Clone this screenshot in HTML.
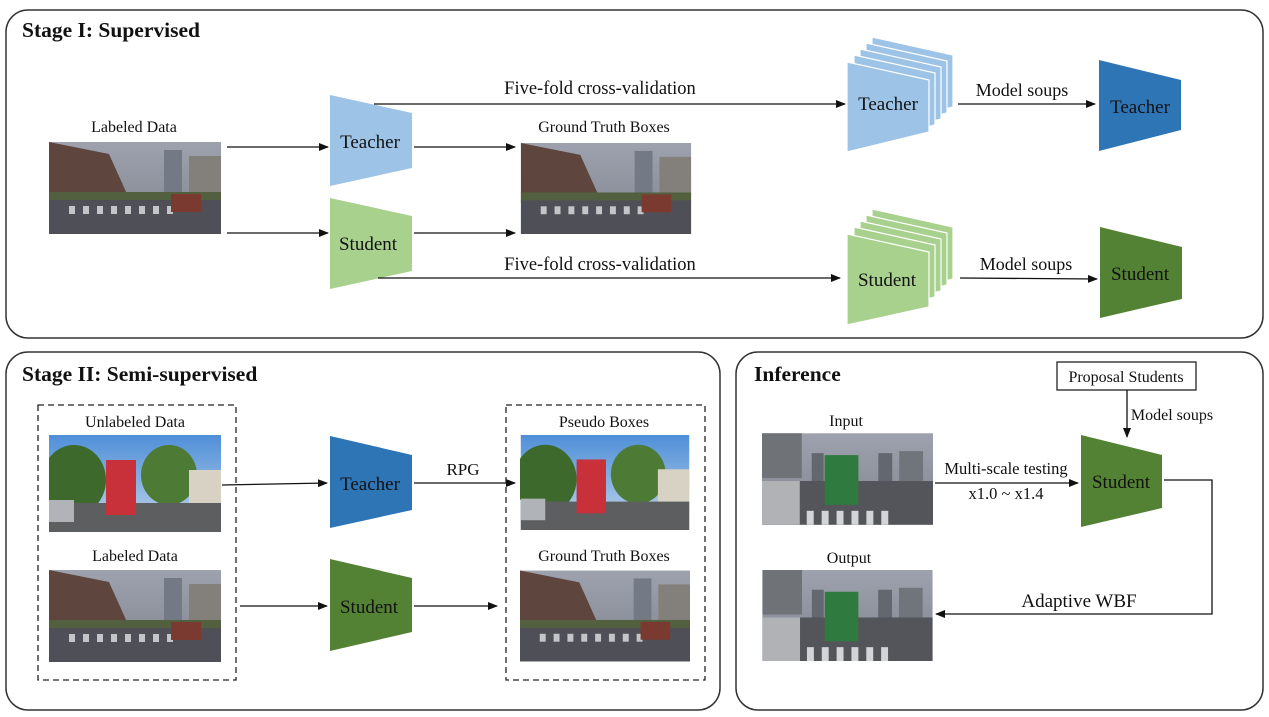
<!DOCTYPE html>
<html><head><meta charset="utf-8"><style>
html,body{margin:0;padding:0;background:#fff}
svg{display:block}
text{font-family:"Liberation Serif",serif;fill:#111}
</style></head><body>
<svg width="1269" height="717" viewBox="0 0 1269 717" xmlns="http://www.w3.org/2000/svg">
<defs>
<marker id="a" markerWidth="10" markerHeight="8" refX="9" refY="4" orient="auto" markerUnits="userSpaceOnUse"><path d="M0,0 L10,4 L0,8 z" fill="#111"/></marker>
<linearGradient id="sky" x1="0" y1="0" x2="0" y2="1"><stop offset="0" stop-color="#9ea2ae"/><stop offset="1" stop-color="#80848e"/></linearGradient>
<linearGradient id="bsky" x1="0" y1="0" x2="0" y2="1"><stop offset="0" stop-color="#4f8fd8"/><stop offset="1" stop-color="#c4d7ea"/></linearGradient>
<symbol id="city" viewBox="0 0 172 92">
<rect width="172" height="92" fill="url(#sky)"/>
<polygon points="0,0 60,12 78,52 0,60" fill="#5e463e"/>
<rect x="115" y="8" width="18" height="44" fill="#737985"/>
<rect x="140" y="14" width="32" height="40" fill="#83807c"/>
<rect x="0" y="50" width="172" height="10" fill="#52603f"/>
<rect x="0" y="58" width="172" height="34" fill="#4f5057"/>
<g fill="#c4c5c9"><rect x="20" y="64" width="6" height="8"/><rect x="34" y="64" width="6" height="8"/><rect x="48" y="64" width="6" height="8"/><rect x="62" y="64" width="6" height="8"/><rect x="76" y="64" width="6" height="8"/><rect x="90" y="64" width="6" height="8"/><rect x="104" y="64" width="6" height="8"/><rect x="118" y="64" width="6" height="8"/></g>
<rect x="122" y="52" width="30" height="18" fill="#7a3a30"/>
</symbol>
<symbol id="truck" viewBox="0 0 172 97">
<rect width="172" height="97" fill="url(#bsky)"/>
<ellipse cx="25" cy="45" rx="32" ry="35" fill="#3d6a2c"/>
<ellipse cx="120" cy="40" rx="28" ry="30" fill="#4d7a34"/>
<rect x="140" y="35" width="32" height="40" fill="#d8d2c4"/>
<rect x="0" y="68" width="172" height="29" fill="#5d5e60"/>
<rect x="57" y="25" width="30" height="55" fill="#c8303a"/>
<rect x="0" y="65" width="25" height="22" fill="#b0b3b8"/>
</symbol>
<symbol id="bus" viewBox="0 0 172 92">
<rect width="172" height="92" fill="url(#sky)"/>
<rect x="0" y="0" width="40" height="45" fill="#6f7378"/>
<rect x="50" y="20" width="12" height="30" fill="#636770"/>
<rect x="117" y="20" width="14" height="35" fill="#636770"/>
<rect x="138" y="18" width="24" height="35" fill="#70757c"/>
<rect x="0" y="48" width="172" height="44" fill="#54555b"/>
<rect x="63" y="22" width="34" height="50" fill="#2f7a3e"/>
<rect x="0" y="48" width="38" height="44" fill="#b0b2b6"/>
<g fill="#d3d4d8"><rect x="45" y="78" width="7" height="14"/><rect x="60" y="78" width="7" height="14"/><rect x="75" y="78" width="7" height="14"/><rect x="90" y="78" width="7" height="14"/><rect x="105" y="78" width="7" height="14"/><rect x="120" y="78" width="7" height="14"/></g>
</symbol>
</defs>

<rect x="6" y="10" width="1257" height="328" rx="22" fill="none" stroke="#333" stroke-width="1.5"/>
<rect x="6" y="352" width="714" height="358" rx="22" fill="none" stroke="#333" stroke-width="1.5"/>
<rect x="736" y="352" width="527" height="358" rx="22" fill="none" stroke="#333" stroke-width="1.5"/>

<text x="22" y="37" font-size="21.5" font-weight="bold">Stage I: Supervised</text>
<text x="22" y="381" font-size="21.5" font-weight="bold">Stage II: Semi-supervised</text>
<text x="754" y="381" font-size="21.5" font-weight="bold">Inference</text>

<!-- Stage I -->
<text x="134" y="132" font-size="16" text-anchor="middle">Labeled Data</text>
<use href="#city" x="49" y="142" width="172" height="92"/>
<line x1="227" y1="147" x2="328" y2="147" stroke="#111" stroke-width="1.3" marker-end="url(#a)"/>
<line x1="227" y1="233" x2="328" y2="233" stroke="#111" stroke-width="1.3" marker-end="url(#a)"/>
<polygon points="330,95 412,113 412,168 330,186" fill="#9dc3e6"/>
<text x="370" y="148" font-size="19" text-anchor="middle">Teacher</text>
<polygon points="330,198 412,216 412,271 330,289" fill="#a9d18e"/>
<text x="368" y="250" font-size="19" text-anchor="middle">Student</text>
<line x1="414" y1="147" x2="515" y2="147" stroke="#111" stroke-width="1.3" marker-end="url(#a)"/>
<line x1="414" y1="233" x2="515" y2="233" stroke="#111" stroke-width="1.3" marker-end="url(#a)"/>
<text x="604" y="132" font-size="16" text-anchor="middle">Ground Truth Boxes</text>
<use href="#city" x="520" y="143" width="172" height="91"/>
<text x="600" y="94" font-size="18.5" text-anchor="middle">Five-fold cross-validation</text>
<line x1="374" y1="104" x2="845" y2="104" stroke="#111" stroke-width="1.3" marker-end="url(#a)"/>
<text x="600" y="270" font-size="18.5" text-anchor="middle">Five-fold cross-validation</text>
<line x1="378" y1="278" x2="840" y2="278" stroke="#111" stroke-width="1.3" marker-end="url(#a)"/>

<g fill="#9dc3e6" stroke="#fff" stroke-width="1.2">
<polygon points="872,37 953,55 953,107 872,127"/>
<polygon points="866,43 947,61 947,113 866,133"/>
<polygon points="860,49 941,67 941,119 860,139"/>
<polygon points="854,55 935,73 935,125 854,145"/>
<polygon points="847,62 929,80 929,132 847,152"/>
</g>
<text x="888" y="110" font-size="19" text-anchor="middle">Teacher</text>
<text x="1022" y="96" font-size="18" text-anchor="middle">Model soups</text>
<line x1="958" y1="104" x2="1095" y2="104" stroke="#111" stroke-width="1.3" marker-end="url(#a)"/>
<polygon points="1099,60 1181,80 1181,130 1099,151" fill="#2e75b6"/>
<text x="1140" y="113" font-size="19" text-anchor="middle">Teacher</text>

<g fill="#a9d18e" stroke="#fff" stroke-width="1.2">
<polygon points="872,209 953,227 953,279 872,299"/>
<polygon points="866,215 947,233 947,285 866,305"/>
<polygon points="860,221 941,239 941,291 860,311"/>
<polygon points="854,227 935,245 935,297 854,317"/>
<polygon points="847,234 929,252 929,307 847,325"/>
</g>
<text x="887" y="286" font-size="19" text-anchor="middle">Student</text>
<text x="1026" y="270" font-size="18" text-anchor="middle">Model soups</text>
<line x1="960" y1="278" x2="1097" y2="279" stroke="#111" stroke-width="1.3" marker-end="url(#a)"/>
<polygon points="1100,227 1182,247 1182,299 1100,318" fill="#548235"/>
<text x="1140" y="280" font-size="19" text-anchor="middle">Student</text>

<!-- Stage II -->
<rect x="38" y="405" width="198" height="275" fill="none" stroke="#222" stroke-width="1.3" stroke-dasharray="6,4"/>
<text x="135" y="427" font-size="16" text-anchor="middle">Unlabeled Data</text>
<use href="#truck" x="49" y="435" width="172" height="97"/>
<text x="135" y="561" font-size="16" text-anchor="middle">Labeled Data</text>
<use href="#city" x="49" y="570" width="172" height="92"/>
<line x1="222" y1="485" x2="327" y2="483" stroke="#111" stroke-width="1.3" marker-end="url(#a)"/>
<polygon points="330,436 412,455 412,510 330,528" fill="#2e75b6"/>
<text x="370" y="490" font-size="19" text-anchor="middle">Teacher</text>
<text x="463" y="475" font-size="17" text-anchor="middle">RPG</text>
<line x1="414" y1="483" x2="515" y2="483" stroke="#111" stroke-width="1.3" marker-end="url(#a)"/>
<line x1="240" y1="606" x2="327" y2="606" stroke="#111" stroke-width="1.3" marker-end="url(#a)"/>
<polygon points="330,559 412,578 412,632 330,651" fill="#548235"/>
<text x="369" y="613" font-size="19" text-anchor="middle">Student</text>
<line x1="414" y1="606" x2="497" y2="606" stroke="#111" stroke-width="1.3" marker-end="url(#a)"/>
<rect x="506" y="405" width="199" height="275" fill="none" stroke="#222" stroke-width="1.3" stroke-dasharray="6,4"/>
<text x="604" y="427" font-size="16" text-anchor="middle">Pseudo Boxes</text>
<use href="#truck" x="520" y="435" width="170" height="95"/>
<text x="604" y="561" font-size="16" text-anchor="middle">Ground Truth Boxes</text>
<use href="#city" x="520" y="570" width="170" height="92"/>

<!-- Inference -->
<rect x="1057" y="362" width="139" height="28" fill="#fff" stroke="#222" stroke-width="1.3"/>
<text x="1126" y="382" font-size="16" text-anchor="middle">Proposal Students</text>
<line x1="1127" y1="390" x2="1127" y2="437" stroke="#111" stroke-width="1.3" marker-end="url(#a)"/>
<text x="1172" y="420" font-size="16" text-anchor="middle">Model soups</text>
<text x="846" y="426" font-size="16" text-anchor="middle">Input</text>
<use href="#bus" x="762" y="433" width="171" height="92"/>
<line x1="935" y1="483" x2="1078" y2="483" stroke="#111" stroke-width="1.3" marker-end="url(#a)"/>
<text x="1006" y="474" font-size="16.5" text-anchor="middle">Multi-scale testing</text>
<text x="1006" y="499" font-size="16.5" text-anchor="middle">x1.0 ~ x1.4</text>
<polygon points="1081,435 1162,455 1162,508 1081,527" fill="#548235"/>
<text x="1121" y="488" font-size="19" text-anchor="middle">Student</text>
<polyline points="1164,480 1212,480 1212,614 936,614" fill="none" stroke="#111" stroke-width="1.3" marker-end="url(#a)"/>
<text x="1079" y="607" font-size="19" text-anchor="middle">Adaptive WBF</text>
<text x="849" y="563" font-size="16" text-anchor="middle">Output</text>
<use href="#bus" x="762" y="570" width="171" height="91"/>
</svg>
</body></html>
